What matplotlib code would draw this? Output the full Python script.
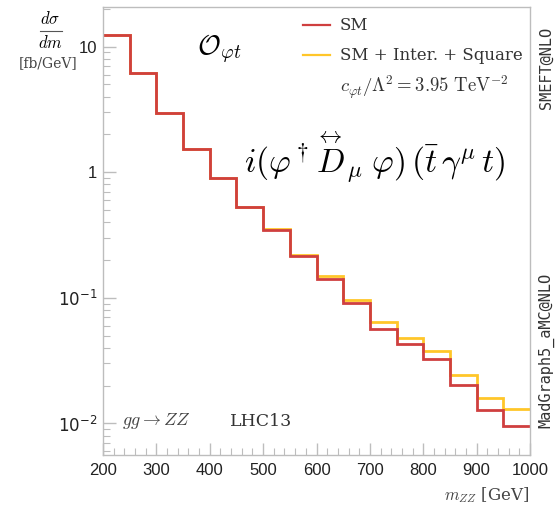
"""gg -> ZZ invariant mass distribution, SM vs SMEFT (O_phi_t)."""

import matplotlib
import numpy as np

matplotlib.use("Agg")
import matplotlib.pyplot as plt
from matplotlib.ticker import FixedLocator, MultipleLocator, NullFormatter

plt.rcParams["mathtext.fontset"] = "cm"
plt.rcParams["font.family"] = ["Liberation Sans", "DejaVu Sans"]

# bin edges in m_ZZ (GeV)
edges = np.arange(200, 1001, 50)
# d sigma / dm (fb/GeV)
sm = [12.4, 6.15, 2.95, 1.52, 0.895, 0.526, 0.345, 0.214,
      0.142, 0.091, 0.0568, 0.0425, 0.0324, 0.0203, 0.0127, 0.00946]
sm_eft = [12.45, 6.18, 2.97, 1.53, 0.90, 0.53, 0.35, 0.218,
          0.148, 0.0955, 0.0636, 0.0482, 0.0375, 0.0241, 0.0160, 0.0131]

red = "#cf3f3f"
yellow = "#ffc629"
grey = "#bdbdbd"

fig = plt.figure(figsize=(5.57, 5.05), dpi=100)
ax = fig.add_axes([103 / 557, 50 / 505, 427 / 557, 448 / 505])

ax.stairs(sm_eft, edges, color=yellow, linewidth=2.0, baseline=None)
ax.stairs(sm, edges, color=red, linewidth=2.0, baseline=None)

ax.set_yscale("log")
ax.set_xlim(200, 1000)
ax.set_ylim(0.0056, 20.7)

# axes cosmetics
for s in ax.spines.values():
    s.set_color(grey)
    s.set_linewidth(1.0)
ax.xaxis.set_major_locator(MultipleLocator(100))
ax.xaxis.set_minor_locator(MultipleLocator(20))
ax.yaxis.set_major_locator(FixedLocator([0.01, 0.1, 1, 10]))
ax.yaxis.set_minor_locator(FixedLocator(
    [m * 10.0 ** e for e in range(-3, 2) for m in range(2, 10)]))
ax.yaxis.set_minor_formatter(NullFormatter())
ax.set_yticklabels(["$10^{-2}$", "$10^{-1}$", "1", "10"],
                   math_fontfamily="dejavusans")
ax.tick_params(which="both", direction="in", color=grey, top=False, right=False,
               labelsize=12, labelcolor="#222222")
ax.tick_params(which="major", length=9, width=1.0)
ax.tick_params(which="minor", length=5, width=0.8)
ax.tick_params(axis="x", pad=6)
ax.tick_params(axis="y", pad=4)

# y axis label (top left)
fig.text(50 / 557, 1 - 18 / 505, r"$d\sigma$", ha="center", va="center", fontsize=12)
fig.add_artist(plt.Line2D([40 / 557, 62 / 557], [1 - 31 / 505, 1 - 31 / 505],
                          color="#555555", linewidth=0.8))
fig.text(50 / 557, 1 - 43 / 505, r"$dm$", ha="center", va="center", fontsize=12)
fig.text(48 / 557, 1 - 63 / 505, "[fb/GeV]", ha="center", va="center",
         fontsize=10, family="DejaVu Serif", color="#444444")

# x axis label
fig.text(530 / 557, 1 - 495 / 505, r"$m_{ZZ}$ [GeV]", ha="right", va="center",
         fontsize=12, family="DejaVu Serif", color="#444444")

# operator labels
ax.text(0.22, 0.905, r"$\mathcal{O}_{\varphi t}$", transform=ax.transAxes,
        fontsize=20, ha="left", va="center")
ax.text(0.33, 0.665,
        r"$i(\varphi^\dagger\overset{\leftrightarrow}{D}_\mu\; \varphi)\,"
        r"(\bar t\, \gamma^\mu\, t)$",
        transform=ax.transAxes, fontsize=24, ha="left", va="center")

# legend drawn by hand
for i, (lab, col) in enumerate([("SM", red), ("SM + Inter. + Square", yellow)]):
    yy = 1 - (25 + 30 * i) / 505
    fig.add_artist(plt.Line2D([303 / 557, 330 / 557], [yy, yy], color=col,
                              linewidth=1.6))
    fig.text(340 / 557, yy, lab, ha="left", va="center", fontsize=12,
             family="DejaVu Serif", color="#333333")
fig.text(340 / 557, 1 - 87 / 505, r"$c_{\varphi t}/\Lambda^2 = 3.95\ \mathrm{TeV}^{-2}$",
         ha="left", va="center", fontsize=13.5, color="#333333")

ax.text(0.045, 0.075, r"$gg \to ZZ$", transform=ax.transAxes, fontsize=13,
        ha="left", va="center", color="#444444")
ax.text(0.297, 0.075, "LHC13", transform=ax.transAxes, fontsize=12.5,
        family="DejaVu Serif", ha="left", va="center", color="#333333")

# generator tags on the right
fig.text(546 / 557, 1 - 68 / 505, "SMEFT@NLO", rotation=90, ha="center",
         va="center", fontsize=11, family="DejaVu Sans Mono", color="#333333")
fig.text(546 / 557, 1 - 350 / 505, "MadGraph5_aMC@NLO", rotation=90, ha="center",
         va="center", fontsize=11, family="DejaVu Sans Mono", color="#333333")

fig.savefig("out.png", dpi=100)
plt.close()
